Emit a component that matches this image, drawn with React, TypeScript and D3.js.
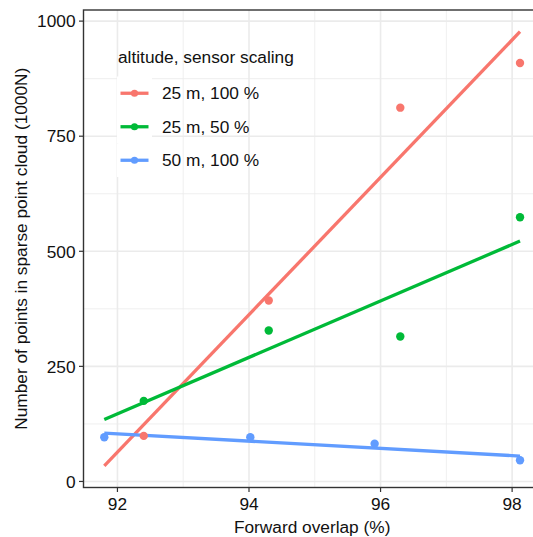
import React from "react";
import * as d3 from "d3";

const seriesNames = ["25 m, 100 %", "25 m, 50 %", "50 m, 100 %"];
const seriesColors = ["#F8766D", "#00BA38", "#619CFF"];
const redX = [92.4, 94.3, 96.3, 98.12];
const redY = [99, 393, 812, 909];
const greenX = [92.4, 94.3, 96.3, 98.12];
const greenY = [175, 328, 315, 574];
const blueX = [91.8, 94.02, 95.91, 98.12];
const blueY = [96, 96, 82, 46];
const xTicks = [92, 94, 96, 98];
const xMinor = [93, 95, 97];
const yTicks = [0, 250, 500, 750, 1000];
const yMinor = [125, 375, 625, 875];
const legendTitle = "altitude, sensor scaling";
const xTitle = "Forward overlap (%)";
const yTitle = "Number of points in sparse point cloud (1000N)";

const W = 533, H = 537;
const P = { left: 83.5, right: 540.8, top: 10, bottom: 487.5 };
const FONT = "'Liberation Sans', Arial, sans-serif";
const FS = 17.3;

function lm(xs: number[], ys: number[]) {
  const mx = d3.mean(xs)!, my = d3.mean(ys)!;
  let sxy = 0, sxx = 0;
  xs.forEach((x, i) => { sxy += (x - mx) * (ys[i] - my); sxx += (x - mx) ** 2; });
  const b = sxy / sxx;
  return (x: number) => my + b * (x - mx);
}

export default function App() {
  const series = [
    { name: seriesNames[0], color: seriesColors[0], xs: redX, ys: redY },
    { name: seriesNames[1], color: seriesColors[1], xs: greenX, ys: greenY },
    { name: seriesNames[2], color: seriesColors[2], xs: blueX, ys: blueY },
  ];
  const allX = [...redX, ...greenX, ...blueX];
  const x0 = d3.min(allX)!, x1 = d3.max(allX)!;
  const fits = series.map((s) => {
    const f = lm(s.xs, s.ys);
    return [[x0, f(x0)], [x1, f(x1)]] as [number, number][];
  });
  const allY = [...redY, ...greenY, ...blueY, ...fits.flat().map((p) => p[1])];
  const y0 = d3.min(allY)!, y1 = d3.max(allY)!;
  const ex = (x1 - x0) * 0.05, ey = (y1 - y0) * 0.05;
  const xs = d3.scaleLinear().domain([x0 - ex, x1 + ex]).range([P.left, P.right]);
  const ys = d3.scaleLinear().domain([y0 - ey, y1 + ey]).range([P.bottom, P.top]);
  const line = d3.line<[number, number]>().x((d) => xs(d[0])).y((d) => ys(d[1]));

  const keyX = 117, keyW = 35, keyTop = 76.5, keyH = 33.5;

  return (
    <svg width={W} height={H} style={{ position: "absolute", left: 0, top: 0, overflow: "hidden", background: "#fff" }} fontFamily={FONT}>
      <rect x={0} y={0} width={W} height={H} fill="#fff" />
      <g>
        {yMinor.map((v) => (
          <line key={"ym" + v} x1={P.left} x2={P.right} y1={ys(v)} y2={ys(v)} stroke="#EBEBEB" strokeWidth={0.8} />
        ))}
        {xMinor.map((v) => (
          <line key={"xm" + v} y1={P.top} y2={P.bottom} x1={xs(v)} x2={xs(v)} stroke="#EBEBEB" strokeWidth={0.8} />
        ))}
        {yTicks.map((v) => (
          <line key={"yM" + v} x1={P.left} x2={P.right} y1={ys(v)} y2={ys(v)} stroke="#EBEBEB" strokeWidth={1.6} />
        ))}
        {xTicks.map((v) => (
          <line key={"xM" + v} y1={P.top} y2={P.bottom} x1={xs(v)} x2={xs(v)} stroke="#EBEBEB" strokeWidth={1.6} />
        ))}
      </g>
      {series.map((s, i) => (
        <rect key={"kb" + i} x={keyX} y={keyTop + i * keyH} width={keyW} height={keyH} fill="#fff" />
      ))}
      {fits.map((f, i) => (
        <path key={"fit" + i} d={line(f)!} stroke={series[i].color} strokeWidth={3.3} fill="none" />
      ))}
      {series.map((s, i) =>
        s.xs.map((x, j) => (
          <circle key={"pt" + i + "_" + j} cx={xs(x)} cy={ys(s.ys[j])} r={4.2} fill={s.color} />
        ))
      )}
      <rect x={P.left} y={P.top} width={P.right - P.left} height={P.bottom - P.top} fill="none" stroke="#333" strokeWidth={1.4} />
      {yTicks.map((v) => (
        <g key={"yt" + v}>
          <line x1={P.left - 4.5} x2={P.left} y1={ys(v)} y2={ys(v)} stroke="#333" strokeWidth={1.2} />
          <text x={P.left - 8} y={ys(v)} dy="0.36em" textAnchor="end" fontSize={FS} fill="#111">{v}</text>
        </g>
      ))}
      {xTicks.map((v) => (
        <g key={"xt" + v}>
          <line x1={xs(v)} x2={xs(v)} y1={P.bottom} y2={P.bottom + 4.5} stroke="#333" strokeWidth={1.2} />
          <text x={xs(v)} y={510} textAnchor="middle" fontSize={FS} fill="#111">{v}</text>
        </g>
      ))}
      <text x={(P.left + P.right) / 2} y={532.5} textAnchor="middle" fontSize={FS} fill="#111">{xTitle}</text>
      <text transform={`translate(27,${(P.top + P.bottom) / 2}) rotate(-90)`} textAnchor="middle" fontSize={FS} fill="#111">{yTitle}</text>
      <text x={118} y={63} fontSize={FS} fill="#111">{legendTitle}</text>
      {series.map((s, i) => {
        const cy = keyTop + i * keyH + keyH / 2;
        return (
          <g key={"lg" + i}>
            <line x1={keyX + 3.5} x2={keyX + keyW - 3.5} y1={cy} y2={cy} stroke={s.color} strokeWidth={3.3} />
            <circle cx={keyX + keyW / 2} cy={cy} r={3.6} fill={s.color} />
            <text x={162} y={cy} dy="0.36em" fontSize={FS} fill="#111">{s.name}</text>
          </g>
        );
      })}
    </svg>
  );
}
